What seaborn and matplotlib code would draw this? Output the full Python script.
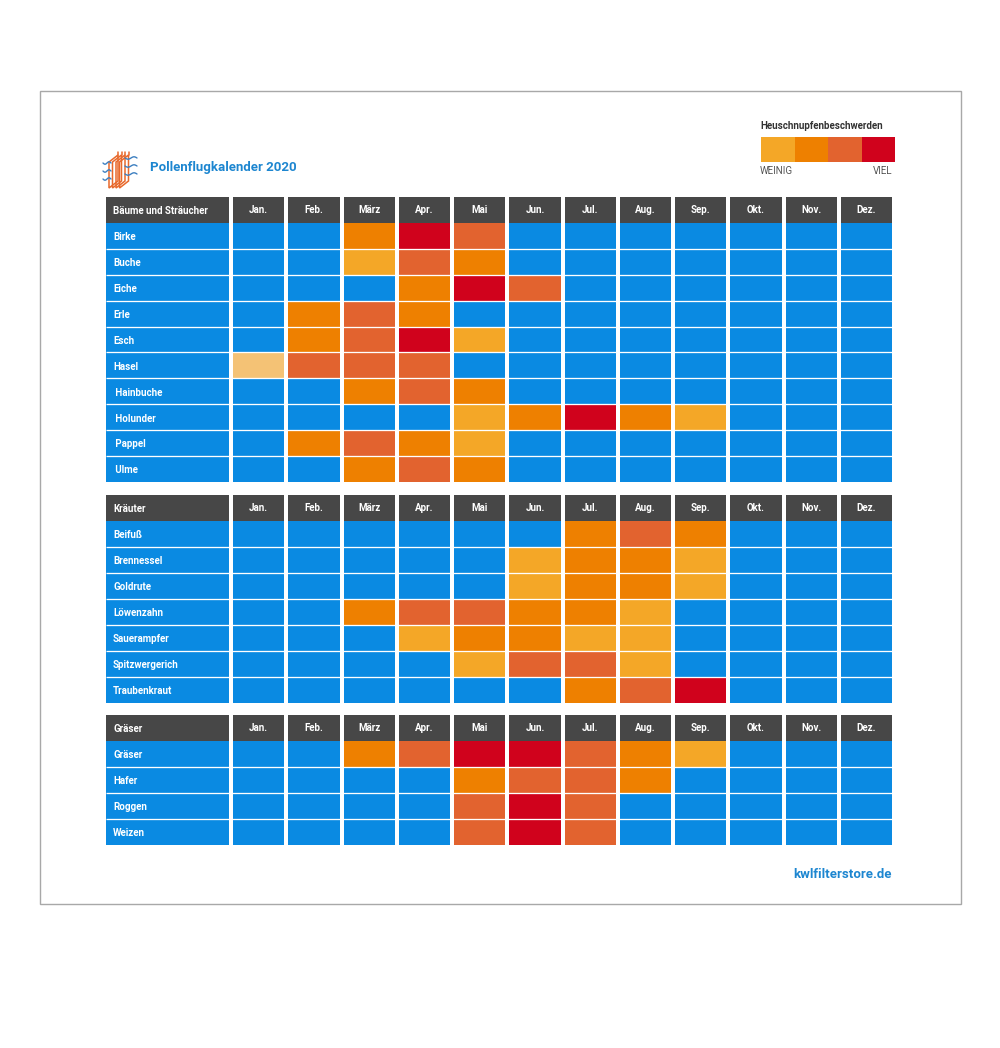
"""Pollenflugkalender 2020 - heatmap calendar"""

import matplotlib
matplotlib.use('Agg')
import matplotlib.pyplot as plt
from matplotlib.colors import ListedColormap
from matplotlib.patches import Rectangle, Polygon
import numpy as np
import pandas as pd
import seaborn as sns


# --------------------------- data ------------------------------
MONTHS = ['Jan.', 'Feb.', 'März', 'Apr.', 'Mai', 'Jun.',
          'Jul.', 'Aug.', 'Sep.', 'Okt.', 'Nov.', 'Dez.']

# level 0 = kein Flug, 1..5 = schwach .. stark
TREES = ['Birke', 'Buche', 'Eiche', 'Erle', 'Esch', 'Hasel',
         ' Hainbuche', ' Holunder', ' Pappel', ' Ulme']
TREES_LEVELS = [
    [0, 0, 3, 5, 4, 0, 0, 0, 0, 0, 0, 0],
    [0, 0, 2, 4, 3, 0, 0, 0, 0, 0, 0, 0],
    [0, 0, 0, 3, 5, 4, 0, 0, 0, 0, 0, 0],
    [0, 3, 4, 3, 0, 0, 0, 0, 0, 0, 0, 0],
    [0, 3, 4, 5, 2, 0, 0, 0, 0, 0, 0, 0],
    [1, 4, 4, 4, 0, 0, 0, 0, 0, 0, 0, 0],
    [0, 0, 3, 4, 3, 0, 0, 0, 0, 0, 0, 0],
    [0, 0, 0, 0, 2, 3, 5, 3, 2, 0, 0, 0],
    [0, 3, 4, 3, 2, 0, 0, 0, 0, 0, 0, 0],
    [0, 0, 3, 4, 3, 0, 0, 0, 0, 0, 0, 0],
]

HERBS = ['Beifuß', 'Brennessel', 'Goldrute', 'Löwenzahn',
         'Sauerampfer', 'Spitzwergerich', 'Traubenkraut']
HERBS_LEVELS = [
    [0, 0, 0, 0, 0, 0, 3, 4, 3, 0, 0, 0],
    [0, 0, 0, 0, 0, 2, 3, 3, 2, 0, 0, 0],
    [0, 0, 0, 0, 0, 2, 3, 3, 2, 0, 0, 0],
    [0, 0, 3, 4, 4, 3, 3, 2, 0, 0, 0, 0],
    [0, 0, 0, 2, 3, 3, 2, 2, 0, 0, 0, 0],
    [0, 0, 0, 0, 2, 4, 4, 2, 0, 0, 0, 0],
    [0, 0, 0, 0, 0, 0, 3, 4, 5, 0, 0, 0],
]

GRASSES = ['Gräser', 'Hafer', 'Roggen', 'Weizen']
GRASSES_LEVELS = [
    [0, 0, 3, 4, 5, 5, 4, 3, 2, 0, 0, 0],
    [0, 0, 0, 0, 3, 4, 4, 3, 0, 0, 0, 0],
    [0, 0, 0, 0, 4, 5, 4, 0, 0, 0, 0, 0],
    [0, 0, 0, 0, 4, 5, 4, 0, 0, 0, 0, 0],
]

LEGEND_LEVELS = [2, 3, 4, 5]


# --------------------------- style ------------------------------
BLUE = '#0A8AE2'
GRAY = '#474747'
PALETTE = [BLUE, '#F4C275', '#F4A727', '#EE8000', '#E2632F', '#D0021C', GRAY]
HEADER = 6
cmap = ListedColormap(PALETTE)

sns.set_style('white')
plt.rcParams['font.family'] = ['Roboto', 'DejaVu Sans']

W, H = 1000, 1048
fig = plt.figure(figsize=(W / 100, H / 100), dpi=100)


def px_axes(x, y, w, h):
    """axes from pixel box (top-left origin)"""
    return fig.add_axes([x / W, 1 - (y + h) / H, w / W, h / H])


# background overlay for frame, logo and texts
bg = px_axes(0, 0, W, H)
bg.set_xlim(0, W)
bg.set_ylim(H, 0)
bg.set_axis_off()
bg.add_patch(Rectangle((40, 91), 921, 813, fill=False, ec='#A8A8A8', lw=1))

# logo (filter panels + air waves)
for k in range(4):
    x0 = 109 + k * 3.5
    bg.add_patch(Polygon([(x0, 162), (x0 + 9, 155), (x0 + 9, 181), (x0, 188)],
                         closed=True, fill=False, ec='#E8692C', lw=1.1))
    bg.plot([x0 + 9, x0 + 9], [152, 155], color='#E8692C', lw=1.1)
wx = np.linspace(0, 1, 30)
for yy in (163, 171, 179):
    bg.plot(103 + wx * 8, yy + np.sin(wx * 2 * np.pi) * 1.2, color='#3C7FC0', lw=1)
for yy in (158, 166, 174):
    bg.plot(125 + wx * 12, yy + np.sin(wx * 2 * np.pi) * 1.2, color='#3C7FC0', lw=1)

bg.text(150, 168, 'Pollenflugkalender 2020', color='#1D86D0', fontsize=9.5,
        fontweight='bold', va='center', ha='left')
bg.text(760, 126, 'Heuschnupfenbeschwerden', color='#333333', fontsize=7,
        fontweight='bold', va='center', ha='left')
bg.text(760, 171, 'WEINIG', color='#555555', fontsize=7, va='center', ha='left')
bg.text(892, 171, 'VIEL', color='#555555', fontsize=7, va='center', ha='right')
bg.text(892, 874, 'kwlfilterstore.de', color='#1D86D0', fontsize=9.5,
        fontweight='bold', va='center', ha='right')

# legend bar
ax_leg = px_axes(761, 137, 134, 25)
sns.heatmap(np.array([LEGEND_LEVELS]), ax=ax_leg, cmap=cmap, vmin=-0.5, vmax=6.5,
            cbar=False, xticklabels=False, yticklabels=False)


def draw_section(title, names, levels, top, bottom):
    n = len(names)
    h = bottom - top
    row_lw = 1.3 * 72 / 100
    col_lw = 4 * 72 / 100

    # label column
    ax_lab = px_axes(106, top, 123, h)
    lab = pd.DataFrame([[HEADER]] + [[0]] * n, index=[title] + names)
    sns.heatmap(lab, ax=ax_lab, cmap=cmap, vmin=-0.5, vmax=6.5, cbar=False,
                xticklabels=False, yticklabels=False)
    ax_lab.hlines(np.arange(2, n + 1), 0, 1, colors='white', lw=row_lw)
    for i, name in enumerate([title] + names):
        ax_lab.text(7 / 123, i + 0.55, name, color='white', fontsize=7,
                    fontweight='bold', va='center', ha='left')

    # month cells
    ax_mon = px_axes(231, top, 663, h)
    mon = pd.DataFrame([[HEADER] * 12] + levels, index=[title] + names, columns=MONTHS)
    sns.heatmap(mon, ax=ax_mon, cmap=cmap, vmin=-0.5, vmax=6.5, cbar=False,
                xticklabels=False, yticklabels=False)
    ax_mon.hlines(np.arange(2, n + 1), 0, 12, colors='white', lw=row_lw)
    ax_mon.vlines(np.arange(0, 13), 0, n + 1, colors='white', lw=col_lw)
    for j, m in enumerate(MONTHS):
        ax_mon.text(j + 0.5, 0.5, m, color='white', fontsize=7,
                    fontweight='bold', va='center', ha='center')


draw_section('Bäume und Sträucher', TREES, TREES_LEVELS, 197, 482)
draw_section('Kräuter', HERBS, HERBS_LEVELS, 495, 703)
draw_section('Gräser', GRASSES, GRASSES_LEVELS, 715, 845)

plt.savefig('out.png', dpi=100)
